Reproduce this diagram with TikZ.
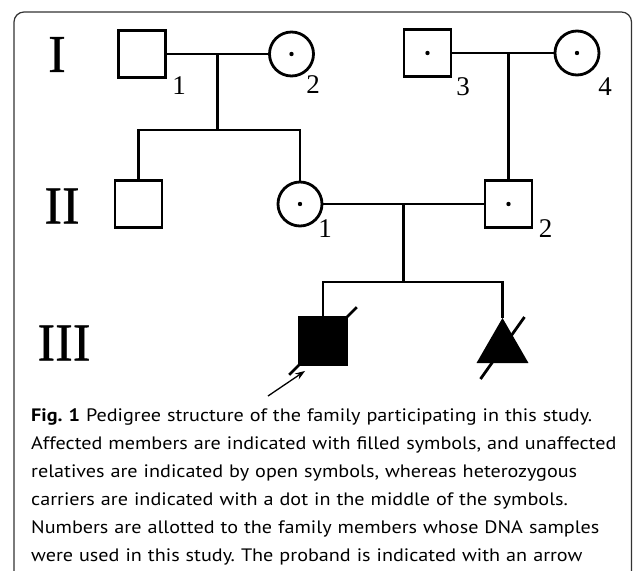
\documentclass[tikz,border=0pt]{standalone}
\usepackage{fontspec}
\usetikzlibrary{calc}
\usetikzlibrary{shapes.geometric}
\usetikzlibrary{arrows.meta}

\newfontfamily\capfont[FakeStretch=1.12]{PT Sans}
\newfontfamily\genfont{Liberation Serif}
\newfontfamily\romanfont[FakeBold=0.6]{Liberation Serif}

\tikzset{
  male/.style={draw, rectangle, line width=2.8pt, minimum size=47pt, inner sep=0pt},
  female/.style={draw, circle, line width=2.8pt, minimum size=44pt, inner sep=0pt},
  lost/.style={regular polygon, regular polygon sides=3, fill=black, minimum size=60pt, inner sep=0pt},
  rel/.style={line width=2.8pt},
  gen/.style={font=\romanfont\fontsize{53}{53}\selectfont, inner sep=0pt},
  num/.style={font=\genfont\fontsize{27}{27}\selectfont, inner sep=0pt},
}

\begin{document}
\frenchspacing
\begin{tikzpicture}[x=1pt, y=-1pt]
        \useasboundingbox (0,0) rectangle (633,571);
        \def\r{2.2pt}  % radius of carrier dot

        % Frame round the figure
        \draw[line width=1.2pt, black!80, rounded corners=10pt] (14,600) -- (14,12) -- (631.5,12) -- (631.5,600);

        % Generation labels
        \node[gen] (gI) at (57,54.5) {I};
        \node[gen] (gII) at (62,206) {II};
        \node[gen] (gIII) at (64,343) {III};

        % Generation I
        \node[male] (I1) at (142,54) {};
        \node[female] (I2) at (291.5,54) {};
        \node[male] (I3) at (427.5,53) {};
        \node[female] (I4) at (577,53) {};

        % Generation II
        \node[male] (IIa) at (138.5,204) {};
        \node[female] (II1) at (300,204) {};
        \node[male] (II2) at (508.5,204) {};

        % Generation III
        \node[male, fill=black] (III1) at (323,341) {};
        \node[lost] (III2) at (502.5,348) {};

        % Carrier dots
        \fill (I2.center) circle (\r) (I3.center) circle (\r) (I4.center) circle (\r)
              (II1.center) circle (\r) (II2.center) circle (\r);

        % Draw marriages and descent lines
        \draw[rel] (I1.east) -- (I2.west);
        \draw[rel] (I3.east) -- (I4.west);
        \draw[rel] (II1.east) -- (II2.west);
        \coordinate (m1) at ($(I1.east)!0.5!(I2.west)$);
        \coordinate (m2) at ($(II1.east)!0.5!(II2.west)$);
        \draw[rel] (m1) -- ++(0,76) coordinate (s1);
        \draw[rel] (IIa.north) |- (s1) -| (II1.north);
        \draw[rel] (II2.north) -- (II2.north |- I3.east);
        \draw[rel] (m2) -- ++(0,78) coordinate (s2);
        \draw[rel] (III1.north) |- (s2) -| (III2.corner 1);

        % Deceased marks
        \draw[rel] ($(III1.south west)!-0.18!(III1.north east)$) -- ($(III1.north east)!-0.18!(III1.south west)$);
        \draw[rel] ($(III2.center)+(-22,31)$) -- ($(III2.center)+(22,-31)$);

        % Proband arrow
        \coordinate (tail) at (268,396);
        \coordinate (tip) at ($(III1.south west)+(7,5)$);
        \draw[line width=1.3pt, -{Stealth[length=10pt, width=7pt]}] (tail) -- (tip);

        % Member numbers
        \node[num] at (179,86) {1};
        \node[num] at (313,85) {2};
        \node[num] at (463,87) {3};
        \node[num] at (605,86.5) {4};
        \node[num] at (325,229) {1};
        \node[num] at (545.5,229) {2};

        % Caption
        \node[anchor=base west, text width=600pt, align=left, inner sep=0pt,
              font=\capfont\fontsize{18}{28}\selectfont] (caption) at (31,421)
          {\textbf{Fig. 1} Pedigree structure of the family participating in this study.\\
           Affected members are indicated with filled symbols, and unaffected\\
           relatives are indicated by open symbols, whereas heterozygous\\
           carriers are indicated with a dot in the middle of the symbols.\\
           Numbers are allotted to the family members whose DNA samples\\
           were used in this study. The proband is indicated with an arrow};
\end{tikzpicture}
\end{document}
